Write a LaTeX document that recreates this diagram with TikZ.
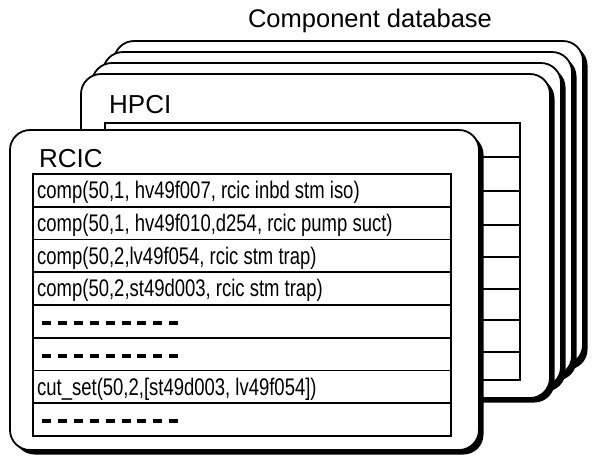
\documentclass[tikz,border=0pt]{standalone}
\usepackage{fontspec}
\newfontfamily\helv{Liberation Sans}
\newfontfamily\helvnarrow[FakeStretch=0.77]{Liberation Sans}
\begin{document}
\begin{tikzpicture}[x=1pt,y=-1pt,
  cardline/.style={line width=1.8pt, rounded corners=20pt},
  tableline/.style={line width=1.8pt},
  heading/.style={font=\helv\fontsize{26}{30}\selectfont, inner sep=0pt, anchor=base west},
  title/.style={font=\helv\fontsize{25.5}{30}\selectfont, inner sep=0pt, anchor=base},
  entry/.style={font=\helvnarrow\fontsize{24}{28}\selectfont, inner sep=0pt, anchor=base west},
  gap/.style={line width=3.5pt, dash pattern=on 9pt off 6.9pt}]
\useasboundingbox (0,0) rectangle (592,459);

% one card: shadow on the right and bottom, white face with thin border
\newcommand\dbcard[4]{%
  \fill[rounded corners=20pt] (#1+4.5,#2+4.5) rectangle (#3+4.5,#4+4.5);
  \filldraw[cardline, fill=white] (#1,#2) rectangle (#3,#4);}

\node[title] (dbtitle) at (370,27) {Component database};

% stacked cards, back to front
\dbcard{114}{41}{583}{365}
\dbcard{103}{52}{572}{376}
\dbcard{92}{63}{561}{387}
\dbcard{81}{74}{550}{398}

% HPCI card and its table
\node[heading] (hpci) at (109,113) {HPCI};
\draw[tableline] (105,123) rectangle (520,380);
\foreach \y in {157,191,225,257,289,320,352}
  \draw[tableline] (105,\y) -- (520,\y);

% RCIC card in front
\dbcard{10}{130}{479}{450}
\node[heading] (rcic) at (39,167) {RCIC};
\draw[tableline] (33,174) rectangle (451,436);
\foreach \i in {1,...,7}
  \draw[tableline] (33,174+32.75*\i) -- (451,174+32.75*\i);

\node[entry] (row1) at (37,198.5) {comp(50,1, hv49f007, rcic inbd stm iso)};
\node[entry] (row2) at (37,231.2) {comp(50,1, hv49f010,d254, rcic pump suct)};
\node[entry] (row3) at (37,264) {comp(50,2,lv49f054, rcic stm trap)};
\node[entry] (row4) at (37,296.7) {comp(50,2,st49d003, rcic stm trap)};
\node[entry] (row7) at (37,395) {cut\_set(50,2,[st49d003, lv49f054])};

% unfilled rows
\coordinate (gap5a) at (42,323);
\coordinate (gap5b) at (180,323);
\coordinate (gap6a) at (42,356);
\coordinate (gap6b) at (180,356);
\coordinate (gap8a) at (42,421);
\coordinate (gap8b) at (180,421);
\draw[gap] (gap5a) -- (gap5b);
\draw[gap] (gap6a) -- (gap6b);
\draw[gap] (gap8a) -- (gap8b);
\end{tikzpicture}
\end{document}
